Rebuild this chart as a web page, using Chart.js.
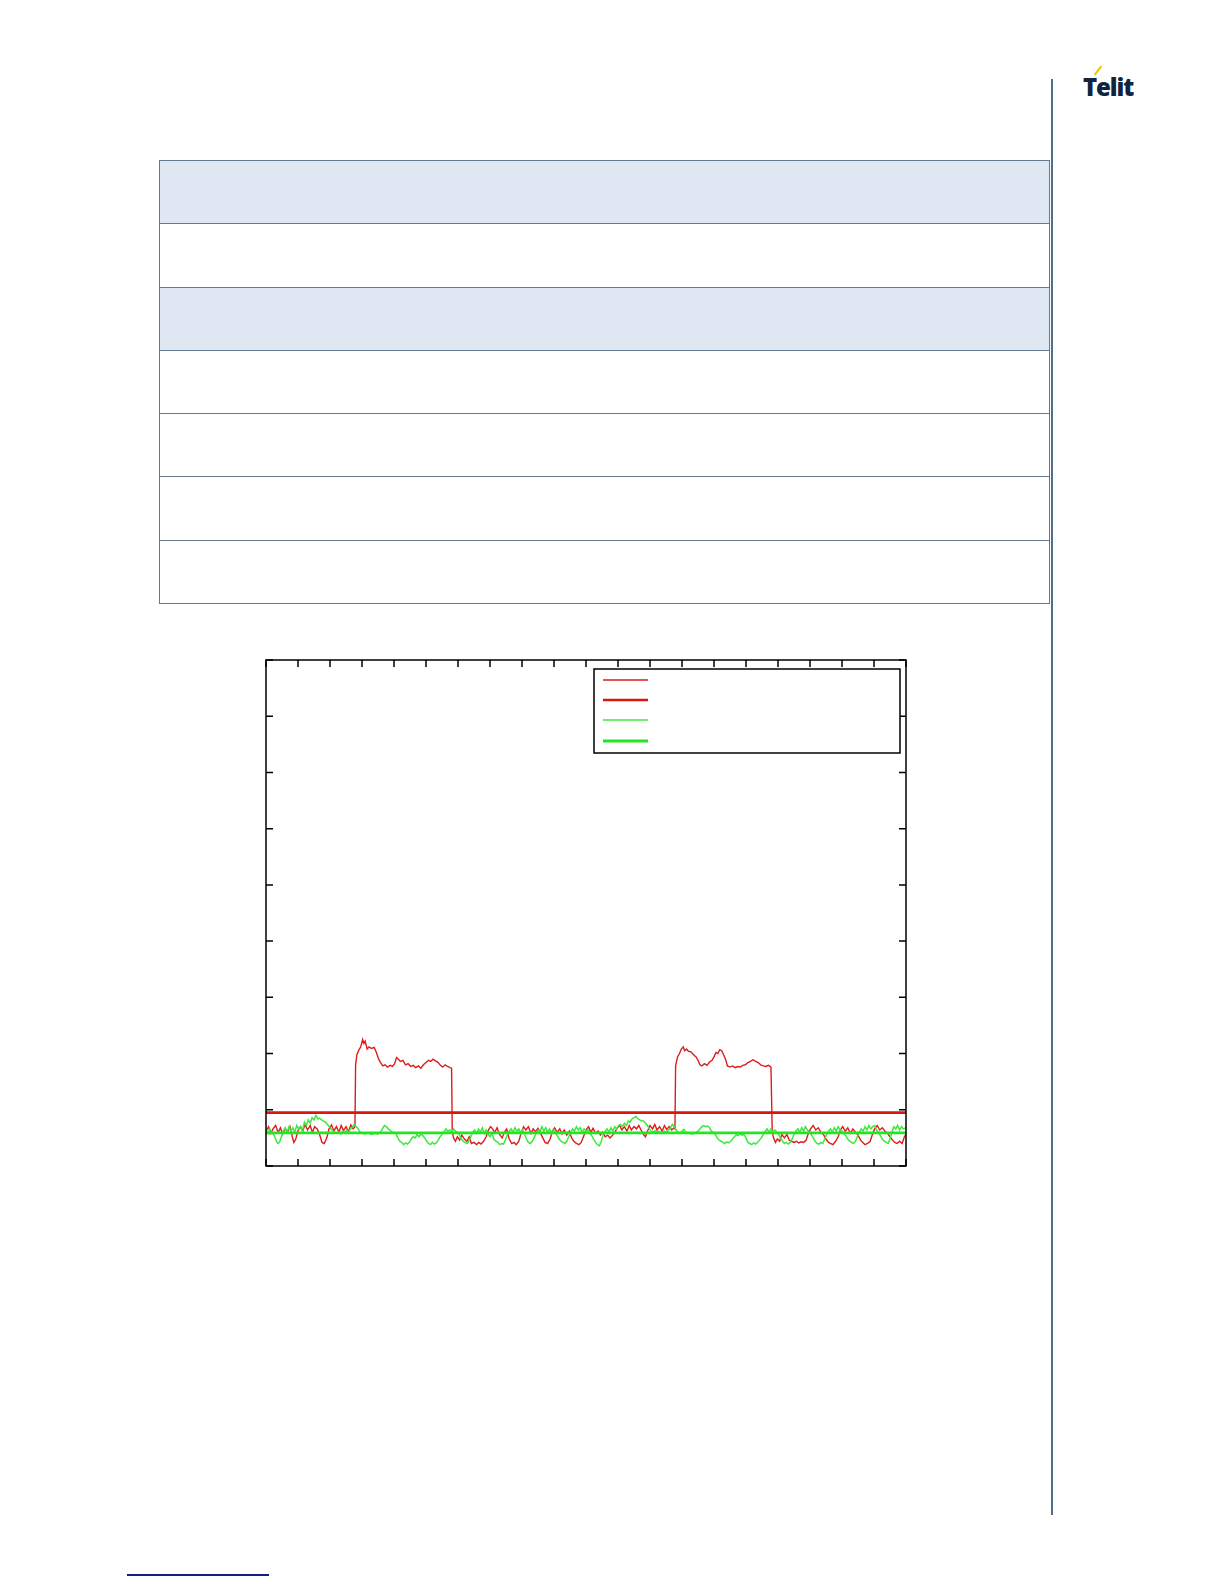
<!DOCTYPE html>
<html>
<head>
<meta charset="utf-8">
<script src="https://cdn.jsdelivr.net/npm/chart.js@4.4.0/dist/chart.umd.min.js"></script>
<style>
  html, body { margin: 0; padding: 0; background: #fff; }
  #page { position: relative; width: 1224px; height: 1584px; overflow: hidden; background: #fff; }
  .logo { position: absolute; left: 1083px; top: 75px; font-family: "Open Sans", "Liberation Sans", sans-serif;
          font-weight: 800; font-size: 24px; line-height: 1; letter-spacing: -1.1px; color: #0f2440; }
  .accent { position: absolute; left: 1097px; top: 65px; width: 2px; height: 11px; background: #f2c200;
            transform: rotate(37deg); transform-origin: center; }
  .sideline { position: absolute; left: 1051px; top: 79px; width: 2px; height: 1436px; background: #4f6f8f; }
  table.spec { position: absolute; left: 159px; top: 160px; width: 891px; border-collapse: collapse; }
  table.spec td { height: 62.3px; border: 1.5px solid #62798f; padding: 0; }
  table.spec tr.head td { background: #dfe7f2; }
  #chartBox { position: absolute; left: 246px; top: 640px; width: 680px; height: 546px; }
  .foot { position: absolute; left: 127px; top: 1574px; width: 142px; height: 2px; background: #1c1c7e; }
</style>
</head>
<body>
<div id="page">
  <div class="accent"></div>
  <div class="logo">Telit</div>
  <div class="sideline"></div>

  <table class="spec">
    <tr class="head"><td></td></tr>
    <tr><td></td></tr>
    <tr class="head"><td></td></tr>
    <tr><td></td></tr>
    <tr><td></td></tr>
    <tr><td></td></tr>
    <tr><td></td></tr>
  </table>

  <div id="chartBox"><canvas id="plot"></canvas></div>
  <div class="foot"></div>
</div>

<script>
// samples: [time, level]
const redRaw = [
  [0.00,0.62],[0.08,0.70],[0.15,0.58],[0.22,0.66],[0.30,0.72],[0.38,0.60],[0.45,0.68],[0.52,0.57],
  [0.60,0.66],[0.68,0.61],[0.75,0.70],[0.82,0.52],[0.87,0.42],[0.93,0.48],[1.00,0.63],[1.08,0.70],
  [1.15,0.62],[1.22,0.74],[1.30,0.64],[1.38,0.72],[1.45,0.60],[1.52,0.70],[1.60,0.66],[1.68,0.55],
  [1.75,0.42],[1.82,0.40],[1.90,0.50],[1.97,0.66],[2.05,0.73],[2.12,0.62],[2.20,0.70],[2.28,0.60],
  [2.35,0.72],[2.42,0.63],[2.50,0.70],[2.58,0.61],[2.65,0.73],[2.72,0.66],[2.78,0.70],[2.80,1.80],
  [2.84,1.98],[2.90,2.06],[2.96,2.12],[3.02,2.25],[3.06,2.18],[3.10,2.22],[3.16,2.08],[3.22,2.12],
  [3.30,2.09],[3.38,2.11],[3.45,2.02],[3.52,1.90],[3.58,1.84],[3.65,1.78],[3.72,1.80],[3.80,1.76],
  [3.88,1.79],[3.95,1.77],[4.02,1.82],[4.08,1.93],[4.14,1.90],[4.20,1.86],[4.28,1.88],[4.36,1.80],
  [4.44,1.82],[4.52,1.77],[4.60,1.79],[4.68,1.75],[4.76,1.78],[4.84,1.74],[4.92,1.80],[5.00,1.84],
  [5.08,1.88],[5.15,1.86],[5.22,1.90],[5.30,1.87],[5.38,1.84],[5.45,1.79],[5.52,1.76],[5.60,1.80],
  [5.68,1.77],[5.75,1.75],[5.80,1.74],[5.82,0.62],[5.86,0.50],[5.92,0.44],[5.98,0.52],[6.05,0.46],
  [6.12,0.55],[6.20,0.48],[6.28,0.44],[6.35,0.52],[6.42,0.40],[6.50,0.42],[6.58,0.38],[6.65,0.42],
  [6.72,0.39],[6.80,0.44],[6.88,0.52],[6.95,0.64],[7.02,0.70],[7.08,0.66],[7.15,0.60],[7.22,0.68],
  [7.30,0.56],[7.38,0.50],[7.45,0.60],[7.52,0.66],[7.60,0.48],[7.68,0.40],[7.75,0.42],[7.82,0.38],
  [7.90,0.44],[7.98,0.60],[8.05,0.70],[8.12,0.64],[8.20,0.70],[8.28,0.58],[8.35,0.66],[8.42,0.61],
  [8.50,0.67],[8.58,0.58],[8.65,0.50],[8.72,0.42],[8.80,0.40],[8.88,0.48],[8.95,0.62],[9.02,0.68],
  [9.10,0.60],[9.18,0.66],[9.25,0.57],[9.32,0.64],[9.40,0.55],[9.48,0.62],[9.55,0.50],[9.62,0.44],
  [9.70,0.40],[9.78,0.38],[9.85,0.42],[9.92,0.52],[10.00,0.64],[10.08,0.70],[10.15,0.60],[10.22,0.67],
  [10.30,0.58],[10.38,0.62],[10.45,0.55],[10.52,0.60],[10.60,0.52],[10.68,0.55],[10.75,0.50],[10.82,0.54],
  [10.90,0.60],[10.98,0.68],[11.05,0.72],[11.12,0.64],[11.20,0.70],[11.28,0.62],[11.35,0.72],[11.42,0.64],
  [11.50,0.70],[11.58,0.66],[11.65,0.72],[11.72,0.64],[11.80,0.56],[11.86,0.52],[11.92,0.62],[12.00,0.72],
  [12.08,0.66],[12.15,0.74],[12.22,0.64],[12.30,0.70],[12.38,0.62],[12.45,0.72],[12.52,0.65],[12.60,0.70],
  [12.68,0.64],[12.75,0.68],[12.78,0.66],[12.80,1.78],[12.86,1.94],[12.92,2.00],[12.98,2.08],[13.04,2.12],
  [13.08,2.05],[13.14,2.08],[13.20,2.04],[13.28,2.03],[13.36,1.98],[13.44,1.94],[13.50,1.88],[13.56,1.80],
  [13.62,1.78],[13.70,1.82],[13.78,1.79],[13.86,1.85],[13.94,1.88],[14.00,1.94],[14.06,2.02],[14.12,2.00],
  [14.18,2.07],[14.24,2.05],[14.30,1.98],[14.36,1.90],[14.42,1.78],[14.50,1.76],[14.58,1.78],[14.66,1.75],
  [14.74,1.77],[14.82,1.76],[14.90,1.79],[14.98,1.80],[15.06,1.84],[15.14,1.86],[15.22,1.89],[15.30,1.86],
  [15.38,1.84],[15.46,1.80],[15.54,1.78],[15.62,1.77],[15.70,1.79],[15.78,1.76],[15.82,0.60],[15.86,0.50],
  [15.92,0.42],[15.98,0.48],[16.05,0.44],[16.12,0.56],[16.20,0.50],[16.28,0.56],[16.35,0.46],[16.42,0.44],
  [16.50,0.42],[16.58,0.44],[16.65,0.41],[16.72,0.43],[16.80,0.42],[16.88,0.46],[16.95,0.58],[17.02,0.66],
  [17.10,0.72],[17.18,0.64],[17.26,0.68],[17.34,0.60],[17.42,0.56],[17.50,0.48],[17.58,0.42],[17.65,0.40],
  [17.72,0.38],[17.80,0.44],[17.88,0.52],[17.95,0.64],[18.02,0.70],[18.10,0.62],[18.18,0.68],[18.26,0.58],
  [18.34,0.66],[18.42,0.60],[18.50,0.55],[18.58,0.46],[18.65,0.42],[18.72,0.38],[18.80,0.40],[18.88,0.44],
  [18.95,0.56],[19.02,0.66],[19.10,0.72],[19.18,0.64],[19.26,0.68],[19.34,0.62],[19.42,0.58],[19.50,0.52],
  [19.58,0.46],[19.65,0.42],[19.72,0.40],[19.80,0.44],[19.88,0.40],[19.95,0.52],[20.00,0.56]
];

const greenRaw = [
  [0.00,0.64],[0.06,0.58],[0.12,0.66],[0.18,0.60],[0.24,0.56],[0.30,0.48],[0.36,0.40],[0.42,0.42],
  [0.48,0.52],[0.54,0.62],[0.60,0.68],[0.66,0.60],[0.72,0.70],[0.78,0.62],[0.84,0.68],[0.90,0.60],
  [0.96,0.72],[1.02,0.66],[1.08,0.70],[1.14,0.62],[1.20,0.78],[1.26,0.72],[1.32,0.82],[1.38,0.76],
  [1.44,0.86],[1.50,0.82],[1.56,0.90],[1.62,0.84],[1.68,0.85],[1.74,0.82],[1.80,0.80],[1.86,0.78],
  [1.92,0.74],[1.98,0.70],[2.04,0.65],[2.10,0.62],[2.16,0.60],[2.22,0.58],[2.28,0.60],[2.34,0.57],
  [2.40,0.62],[2.46,0.60],[2.52,0.64],[2.58,0.60],[2.64,0.66],[2.70,0.70],[2.76,0.74],[2.82,0.70],
  [2.88,0.66],[2.94,0.60],[3.00,0.58],[3.10,0.57],[3.20,0.59],[3.30,0.56],[3.40,0.58],[3.50,0.57],
  [3.58,0.60],[3.64,0.66],[3.70,0.72],[3.76,0.70],[3.82,0.66],[3.88,0.64],[3.94,0.60],[4.00,0.59],
  [4.06,0.57],[4.12,0.50],[4.18,0.44],[4.24,0.42],[4.30,0.38],[4.36,0.41],[4.42,0.39],[4.48,0.42],
  [4.54,0.48],[4.60,0.52],[4.66,0.50],[4.72,0.56],[4.78,0.52],[4.84,0.57],[4.90,0.54],[4.96,0.50],
  [5.02,0.44],[5.08,0.40],[5.14,0.38],[5.20,0.42],[5.26,0.39],[5.32,0.41],[5.38,0.46],[5.44,0.52],
  [5.50,0.56],[5.56,0.60],[5.62,0.66],[5.68,0.62],[5.74,0.64],[5.80,0.60],[5.86,0.66],[5.92,0.62],
  [5.98,0.60],[6.04,0.56],[6.10,0.48],[6.16,0.44],[6.22,0.42],[6.28,0.40],[6.34,0.44],[6.40,0.52],
  [6.46,0.60],[6.52,0.64],[6.58,0.58],[6.64,0.66],[6.70,0.60],[6.76,0.68],[6.82,0.58],[6.88,0.64],
  [6.94,0.56],[7.00,0.52],[7.06,0.58],[7.12,0.48],[7.18,0.44],[7.24,0.42],[7.30,0.38],[7.36,0.40],
  [7.42,0.39],[7.48,0.46],[7.54,0.56],[7.60,0.62],[7.66,0.66],[7.72,0.60],[7.78,0.68],[7.84,0.62],
  [7.90,0.66],[7.96,0.58],[8.02,0.64],[8.08,0.56],[8.14,0.48],[8.20,0.42],[8.26,0.40],[8.32,0.44],
  [8.38,0.50],[8.44,0.58],[8.50,0.64],[8.56,0.60],[8.62,0.70],[8.68,0.62],[8.74,0.68],[8.80,0.60],
  [8.86,0.66],[8.92,0.58],[8.98,0.64],[9.04,0.60],[9.10,0.54],[9.16,0.48],[9.22,0.44],[9.28,0.42],
  [9.34,0.40],[9.40,0.44],[9.46,0.52],[9.52,0.60],[9.58,0.66],[9.64,0.62],[9.70,0.70],[9.76,0.64],
  [9.82,0.68],[9.88,0.60],[9.94,0.66],[10.00,0.62],[10.06,0.64],[10.12,0.58],[10.18,0.54],[10.24,0.48],
  [10.30,0.42],[10.36,0.38],[10.42,0.36],[10.48,0.44],[10.54,0.56],[10.60,0.62],[10.66,0.66],[10.72,0.60],
  [10.78,0.68],[10.84,0.62],[10.90,0.70],[10.96,0.66],[11.02,0.72],[11.08,0.74],[11.14,0.70],[11.20,0.76],
  [11.26,0.72],[11.32,0.80],[11.38,0.78],[11.44,0.84],[11.50,0.86],[11.56,0.88],[11.62,0.84],[11.68,0.82],
  [11.74,0.80],[11.80,0.80],[11.86,0.76],[11.92,0.72],[11.98,0.66],[12.04,0.62],[12.10,0.60],[12.16,0.63],
  [12.22,0.60],[12.28,0.62],[12.34,0.58],[12.40,0.60],[12.46,0.62],[12.52,0.60],[12.58,0.64],[12.64,0.68],
  [12.70,0.74],[12.76,0.70],[12.82,0.64],[12.88,0.60],[12.94,0.58],[13.00,0.62],[13.06,0.65],[13.12,0.60],
  [13.20,0.58],[13.30,0.57],[13.40,0.58],[13.50,0.62],[13.56,0.66],[13.62,0.70],[13.68,0.72],[13.74,0.70],
  [13.80,0.71],[13.86,0.68],[13.92,0.62],[13.98,0.59],[14.04,0.56],[14.10,0.50],[14.16,0.46],[14.22,0.44],
  [14.28,0.42],[14.34,0.40],[14.40,0.43],[14.46,0.41],[14.52,0.44],[14.58,0.48],[14.64,0.52],[14.70,0.56],
  [14.76,0.54],[14.82,0.57],[14.88,0.55],[14.94,0.56],[15.00,0.50],[15.06,0.42],[15.12,0.40],[15.18,0.38],
  [15.24,0.41],[15.30,0.39],[15.36,0.42],[15.42,0.46],[15.48,0.50],[15.54,0.56],[15.60,0.62],[15.66,0.66],
  [15.72,0.60],[15.78,0.66],[15.84,0.62],[15.90,0.64],[15.96,0.60],[16.02,0.56],[16.08,0.50],[16.14,0.44],
  [16.20,0.40],[16.26,0.42],[16.32,0.39],[16.38,0.42],[16.44,0.48],[16.50,0.56],[16.56,0.62],[16.62,0.66],
  [16.68,0.60],[16.74,0.68],[16.80,0.62],[16.86,0.70],[16.92,0.64],[16.98,0.60],[17.04,0.56],[17.10,0.50],
  [17.16,0.44],[17.22,0.40],[17.28,0.39],[17.34,0.42],[17.40,0.40],[17.46,0.48],[17.52,0.56],[17.58,0.62],
  [17.64,0.66],[17.70,0.60],[17.76,0.68],[17.82,0.62],[17.88,0.70],[17.94,0.64],[18.00,0.62],[18.06,0.58],
  [18.12,0.54],[18.18,0.48],[18.24,0.44],[18.30,0.42],[18.36,0.40],[18.42,0.44],[18.48,0.52],[18.54,0.60],
  [18.60,0.66],[18.66,0.62],[18.72,0.70],[18.78,0.64],[18.84,0.72],[18.90,0.66],[18.96,0.70],[19.02,0.72],
  [19.08,0.64],[19.14,0.60],[19.20,0.54],[19.26,0.48],[19.32,0.44],[19.38,0.42],[19.44,0.40],[19.50,0.48],
  [19.56,0.60],[19.62,0.70],[19.68,0.66],[19.74,0.72],[19.80,0.64],[19.86,0.70],[19.92,0.66],[20.00,0.68]
];

const redLimit = 0.95;
const greenLimit = 0.59;
const xRange = [0, 20];
const yRange = [0, 9];

function toPoints(rows){ return rows.map(r => ({ x: r[0], y: r[1] })); }
function flat(level){ return [{ x: xRange[0], y: level }, { x: xRange[1], y: level }]; }

// black frame with short inward ticks on all four sides
const framePlugin = {
  id: "frame",
  afterDraw(chart){
    const { ctx, chartArea: a, scales } = chart;
    const len = 7;
    ctx.save();
    ctx.strokeStyle = "#000";
    ctx.lineWidth = 1.5;
    ctx.strokeRect(a.left, a.top, a.right - a.left, a.bottom - a.top);
    ctx.beginPath();
    scales.x.ticks.forEach(t => {
      const px = scales.x.getPixelForValue(t.value);
      ctx.moveTo(px, a.bottom); ctx.lineTo(px, a.bottom - len);
      ctx.moveTo(px, a.top); ctx.lineTo(px, a.top + len);
    });
    scales.y.ticks.forEach(t => {
      const py = scales.y.getPixelForValue(t.value);
      ctx.moveTo(a.left, py); ctx.lineTo(a.left + len, py);
      ctx.moveTo(a.right, py); ctx.lineTo(a.right - len, py);
    });
    ctx.stroke();
    ctx.restore();
  }
};

// legend box with line samples only (the original has no legible labels)
const keyPlugin = {
  id: "key",
  afterDraw(chart){
    const { ctx, chartArea: a } = chart;
    const left = a.right - 312, top = a.top + 9, w = 306, h = 84;
    ctx.save();
    ctx.fillStyle = "#fff";
    ctx.fillRect(left, top, w, h);
    ctx.strokeStyle = "#000";
    ctx.lineWidth = 1.5;
    ctx.strokeRect(left, top, w, h);
    const rows = [11, 31, 51, 72];
    chart.data.datasets.forEach((ds, i) => {
      ctx.beginPath();
      ctx.strokeStyle = ds.borderColor;
      ctx.lineWidth = ds.borderWidth;
      ctx.moveTo(left + 9, top + rows[i]);
      ctx.lineTo(left + 54, top + rows[i]);
      ctx.stroke();
    });
    ctx.restore();
  }
};

new Chart(document.getElementById("plot"), {
  type: "line",
  data: {
    datasets: [
      { data: toPoints(redRaw), borderColor: "#dd1c1c", borderWidth: 1.4, order: 3 },
      { data: flat(redLimit), borderColor: "#dc1414", borderWidth: 2.6, order: 2 },
      { data: toPoints(greenRaw), borderColor: "#3ee83e", borderWidth: 1.5, order: 1 },
      { data: flat(greenLimit), borderColor: "#22e622", borderWidth: 2.8, order: 0 }
    ]
  },
  options: {
    responsive: true,
    maintainAspectRatio: false,
    animation: false,
    layout: { padding: { left: 12, right: 20, top: 20, bottom: 12 } },
    elements: { point: { radius: 0 }, line: { tension: 0 } },
    plugins: { legend: { display: false }, tooltip: { enabled: false } },
    scales: {
      x: {
        type: "linear", min: xRange[0], max: xRange[1],
        ticks: { display: false, stepSize: 1 },
        grid: { display: false }, border: { display: false }
      },
      y: {
        type: "linear", min: yRange[0], max: yRange[1],
        ticks: { display: false, stepSize: 1 },
        grid: { display: false }, border: { display: false }
      }
    }
  },
  plugins: [framePlugin, keyPlugin]
});
</script>
</body>
</html>
